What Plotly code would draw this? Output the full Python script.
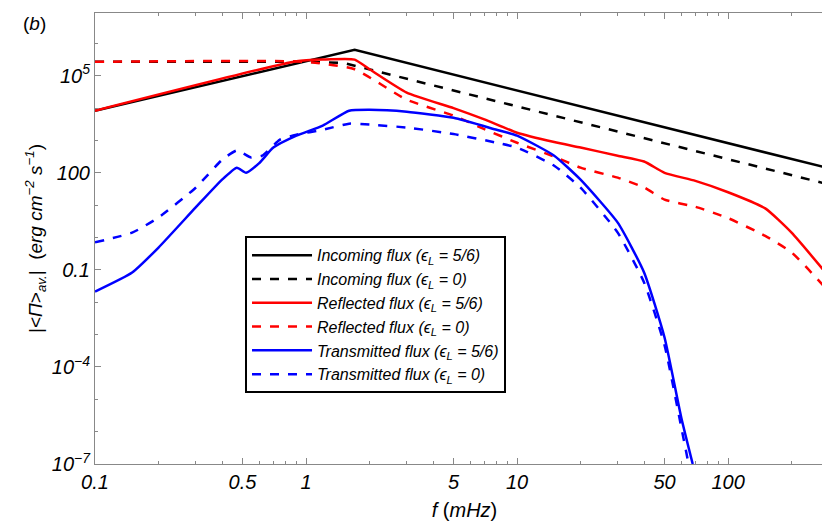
import plotly.graph_objects as go

# log10 values
inc_s_x = [0.1, 1.7, 318]
inc_s_y = [3.92, 5.8, 2.1]
inc_d_x = [0.1, 1.0, 1.5, 318]
inc_d_y = [5.43, 5.43, 5.40, 1.6]
ref_s_x = [0.1, 0.9, 1.2, 1.7, 2, 3, 5, 7, 10, 15, 20, 30, 40, 50, 70, 100, 150, 200, 318]
ref_s_y = [3.92, 5.45, 5.5, 5.5, 5.2, 4.48, 4.0, 3.65, 3.24, 2.95, 2.78, 2.53, 2.35, 2.0, 1.75, 1.4, 0.9, 0.15, -1.4]
ref_d_x = [0.1, 1.0, 1.7, 3, 5, 7, 10, 15, 20, 30, 40, 50, 70, 100, 150, 200, 318]
ref_d_y = [5.43, 5.43, 5.2, 4.26, 3.77, 3.35, 2.93, 2.5, 2.16, 1.85, 1.55, 1.17, 0.95, 0.6, 0.05, -0.46, -1.85]
tr_s_x = [0.1, 0.15, 0.2, 0.3, 0.4, 0.47, 0.52, 0.6, 0.7, 0.9, 1.2, 1.6, 2, 3, 5, 8, 10, 15, 20, 30, 40, 50, 60, 68]
tr_s_y = [-1.67, -1.08, -0.31, 0.93, 1.79, 2.16, 2.0, 2.3, 2.78, 3.15, 3.46, 3.92, 3.95, 3.89, 3.7, 3.33, 3.15, 2.53, 1.79, 0.46, -1.08, -3.09, -5.56, -7.0]
tr_d_x = [0.1, 0.15, 0.2, 0.3, 0.4, 0.47, 0.55, 0.62, 0.75, 0.9, 1.2, 1.6, 2, 3, 5, 8, 10, 15, 20, 30, 40, 50, 60, 65]
tr_d_y = [-0.15, 0.15, 0.62, 1.54, 2.4, 2.69, 2.47, 2.53, 3.02, 3.18, 3.33, 3.52, 3.49, 3.4, 3.2, 2.93, 2.78, 2.22, 1.54, 0.15, -1.39, -3.33, -5.86, -7.0]

y_tickvals = [1e5, 100, 0.1, 1e-4, 1e-7]
y_ticktext = ["10<sup>5</sup>", "100", "0.1", "10<sup>\u22124</sup>", "10<sup>\u22127</sup>"]
x_tickvals = [0.1, 0.5, 1, 5, 10, 50, 100]
x_ticktext = ["0.1", "0.5", "1", "5", "10", "50", "100"]

series = [
    (inc_s_x, inc_s_y, "black", "solid", "linear", "Incoming flux (\u03f5<sub>L</sub> = 5/6)"),
    (inc_d_x, inc_d_y, "black", "dash", "linear", "Incoming flux (\u03f5<sub>L</sub> = 0)"),
    (ref_s_x, ref_s_y, "red", "solid", "spline", "Reflected flux (\u03f5<sub>L</sub> = 5/6)"),
    (ref_d_x, ref_d_y, "red", "dash", "spline", "Reflected flux (\u03f5<sub>L</sub> = 0)"),
    (tr_s_x, tr_s_y, "blue", "solid", "spline", "Transmitted flux (\u03f5<sub>L</sub> = 5/6)"),
    (tr_d_x, tr_d_y, "blue", "dash", "spline", "Transmitted flux (\u03f5<sub>L</sub> = 0)"),
]

fig = go.Figure()
for xs, ys, c, d, sh, name in series:
    fig.add_trace(go.Scatter(x=xs, y=[10 ** v for v in ys], mode="lines", name=name,
                             line=dict(color=c, dash=d, width=2.5, shape=sh, smoothing=0.5)))

axfont = dict(family="Liberation Sans, Arial", size=20, color="black", style="italic")
fig.update_layout(
    width=830, height=528, paper_bgcolor="white", plot_bgcolor="white",
    margin=dict(l=87, r=4, t=5, b=72),
    font=dict(family="Liberation Sans, Arial", color="black"),
    legend=dict(x=0.203, y=0.505, xanchor="left", yanchor="top", bordercolor="black", borderwidth=2,
                bgcolor="white", font=dict(size=16, style="italic"), tracegroupgap=0, itemwidth=60),
    xaxis=dict(type="log", range=[-1, 2.502], tickvals=x_tickvals, ticktext=x_ticktext, tickfont=axfont,
               ticks="inside", ticklen=6, tickcolor="#888", showgrid=False, showline=True, linecolor="#888",
               mirror="ticks", automargin=False,
               minor=dict(ticks="inside", ticklen=3, tickcolor="#888",
                          tickvals=[0.2, 0.3, 0.4, 0.6, 0.7, 0.8, 0.9, 2, 3, 4, 6, 7, 8, 9, 20, 30, 40, 60, 70, 80, 90, 200, 300]),
               title=dict(text="<i>f</i> (<i>mHz</i>)", font=dict(size=20), standoff=10)),
    yaxis=dict(type="log", range=[-7, 6.94], tickvals=y_tickvals, ticktext=y_ticktext, tickfont=axfont,
               ticks="inside", ticklen=6, tickcolor="#888", showgrid=False, showline=True, linecolor="#888",
               mirror="ticks", automargin=False,
               minor=dict(ticks="inside", ticklen=3, tickcolor="#888", tickvals=[1e6, 1e4, 1e3, 10, 1, 0.01, 1e-3, 1e-5, 1e-6]),
               title=dict(text="|&lt;<i>\u03a0</i>&gt;<sub><i>av.</i></sub>|  (<i>erg cm<sup>\u22122</sup> s<sup>\u22121</sup></i>)",
                          font=dict(size=19), standoff=4)),
)
fig.add_annotation(text="(<i>b</i>)", xref="paper", yref="paper", x=-0.1, y=1.005, showarrow=False,
                   xanchor="left", yanchor="top", font=dict(size=19))
fig.write_html("out.html")
